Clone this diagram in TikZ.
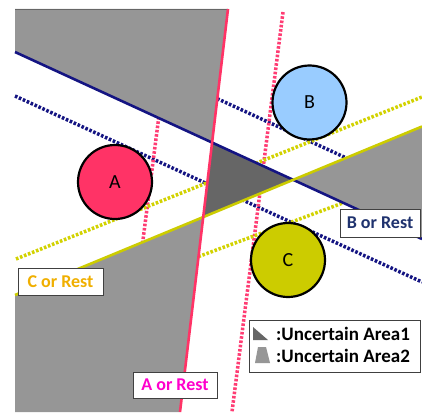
\documentclass[tikz,border=0pt]{standalone}
\usepackage{fontspec}
\setmainfont{Carlito}
\usetikzlibrary{shadows}
\definecolor{navyc}{RGB}{20,20,130}
\definecolor{pinkc}{RGB}{255,51,102}
\definecolor{pinkd}{RGB}{255,60,115}
\definecolor{yelc}{RGB}{204,204,0}
\definecolor{yeld}{RGB}{210,210,0}
\definecolor{afill}{RGB}{255,51,102}
\definecolor{bfill}{RGB}{153,204,255}
\definecolor{cfill}{RGB}{204,204,0}
\definecolor{greyA}{RGB}{150,150,150}
\definecolor{greyB}{RGB}{102,102,102}
\definecolor{btxt}{RGB}{31,50,110}
\definecolor{ctxt}{RGB}{240,175,0}
\definecolor{atxt}{RGB}{255,0,204}
\begin{document}
\begin{tikzpicture}[x=1pt,y=-1pt,
  solidln/.style={line width=2.6pt},
  dotln/.style={line width=3.5pt, dash pattern=on 2.6pt off 1.7pt},
  circ/.style={circle, draw=black, line width=2.2pt, minimum size=74pt, inner sep=0pt, font=\fontsize{20}{20}\selectfont},
  lbl/.style={draw=black!75, line width=0.8pt, fill=white, inner sep=0pt, font=\bfseries\fontsize{18}{18}\selectfont,
     drop shadow={shadow xshift=1.2pt, shadow yshift=-1.2pt, fill=black!55, opacity=1}},
  legtxt/.style={anchor=west, inner sep=0pt, font=\bfseries\fontsize{19}{19}\selectfont}]
\useasboundingbox (0,0) rectangle (422,412);
% main lines
\coordinate (N1) at (15,52);  \coordinate (N2) at (422,239);
\coordinate (Y1) at (15,295); \coordinate (Y2) at (422,126.5);
\coordinate (P1) at (228,9);  \coordinate (P2) at (180,412);
\coordinate (X1) at (intersection of P1--P2 and N1--N2);
\coordinate (X2) at (intersection of N1--N2 and Y1--Y2);
\coordinate (X3) at (intersection of P1--P2 and Y1--Y2);
% dotted tangent lines
\coordinate (nda) at (15,96);   \coordinate (ndb) at (422,282);
\coordinate (nua) at (100,44.7); \coordinate (nub) at (360,164.3);
\coordinate (pda) at (161,100); \coordinate (pdb) at (140.4,260);
\coordinate (pea) at (283,12);  \coordinate (peb) at (232,412);
\coordinate (yda) at (16,259);  \coordinate (ydb) at (422,97);
\coordinate (yea) at (150,274.6); \coordinate (yeb) at (420,174.3);
\draw[dotln, navyc] (nda) -- (ndb);
\draw[dotln, navyc] (nua) -- (nub);
\draw[dotln, pinkd] (pda) -- (pdb);
\draw[dotln, pinkd] (pea) -- (peb);
\draw[dotln, yeld] (yda) -- (ydb);
\draw[dotln, yeld] (yea) -- (yeb);
% grey areas
\fill[greyA] (15,9) -- (P1) -- (X1) -- (N1) -- cycle;
\fill[greyA] (X2) -- (Y2) -- (N2) -- cycle;
\fill[greyA] (Y1) -- (X3) -- (P2) -- (15,412) -- cycle;
\fill[greyB] (X1) -- (X2) -- (X3) -- cycle;
\draw[black!60, line width=0.8pt] (15,9) -- (P1);
% solid lines
\draw[solidln, navyc] (N1) -- (N2);
\draw[solidln, yelc] (Y1) -- (Y2);
\draw[solidln, pinkc] (P1) -- (P2);
% circles
\node[circ, fill=afill] (A) at (115,182) {A};
\node[circ, fill=bfill] (B) at (309.5,102.5) {B};
\node[circ, fill=cfill] (C) at (288,260) {C};
% labels
\node[lbl, text=btxt, minimum width=80pt, minimum height=28pt] (Blbl) at (380,223) {B or Rest};
\node[lbl, text=ctxt, minimum width=85pt, minimum height=27pt] (Clbl) at (60.5,281.5) {C or Rest};
\node[lbl, text=atxt, minimum width=84pt, minimum height=26pt] (Albl) at (175,385) {A or Rest};
% legend
\node[lbl, minimum width=171pt, minimum height=52pt] (leg) at (334.5,346) {};
\fill[greyB] (253,327) -- (253,340) -- (268,340) -- cycle;
\fill[greyA] (258,347) -- (266,347) -- (270,363) -- (255,363) -- cycle;
\node[legtxt] (l1) at (276,334) {:Uncertain Area1};
\node[legtxt] (l2) at (276,356) {:Uncertain Area2};
\end{tikzpicture}
\end{document}
